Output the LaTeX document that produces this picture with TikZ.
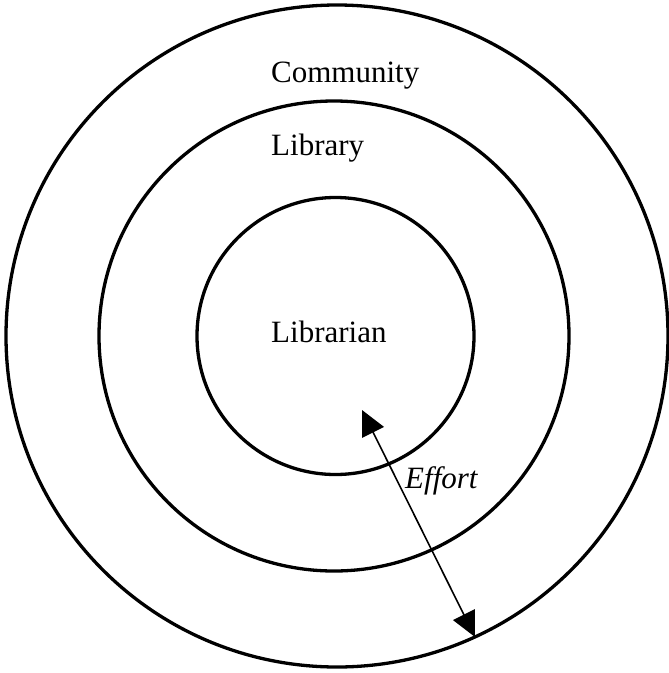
\documentclass[tikz,border=0pt]{standalone}
\usepackage{fontspec}
\setmainfont{Liberation Serif}
\usetikzlibrary{arrows.meta}
\begin{document}
\begin{tikzpicture}[x=1pt,y=-1pt,
  ring/.style={line width=3.3pt},
  lbl/.style={font=\fontsize{31}{37}\selectfont, anchor=base west, inner sep=0pt},
  effortarrow/.style={line width=1.6pt, {Triangle[length=25pt,width=24pt]}-{Triangle[length=25pt,width=24pt]}}]
\useasboundingbox (0,0) rectangle (669,673);
\draw[ring] (337,336) circle[radius=331];
\draw[ring] (334,336) circle[radius=235];
\draw[ring] (335.5,336) circle[radius=138.5];
\node[lbl] (community) at (271,82) {Community};
\node[lbl] (library) at (271,155) {Library};
\node[lbl] (librarian) at (271,342) {Librarian};
\node[lbl] (effort) at (405,488) {\itshape Effort};
\coordinate (inner) at (362,410);
\coordinate (outer) at (475,637);
\draw[effortarrow] (inner) -- (outer);
\end{tikzpicture}
\end{document}
